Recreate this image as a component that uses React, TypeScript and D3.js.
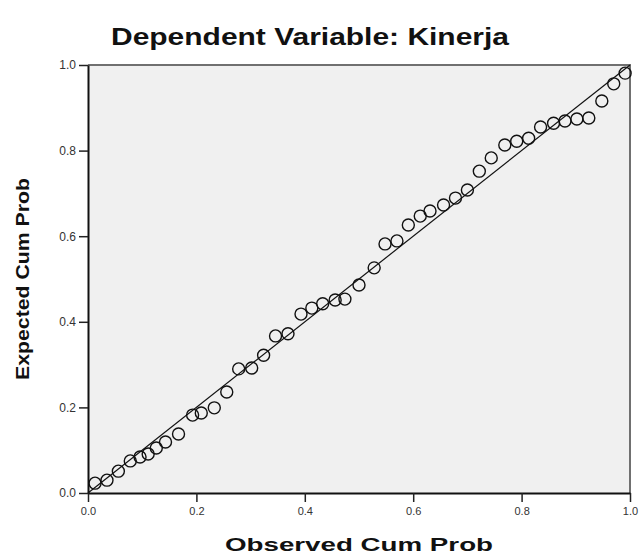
import React, { useEffect, useRef } from 'react'
import * as d3 from 'd3'

// observed vs expected cumulative probabilities (P-P plot of residuals)
const observed = [
  0.013, 0.035, 0.056, 0.078, 0.096, 0.111, 0.126, 0.143, 0.167, 0.193, 0.209, 0.233,
  0.256, 0.278, 0.302, 0.324, 0.346, 0.369, 0.393, 0.413, 0.433, 0.456, 0.474, 0.5,
  0.528, 0.548, 0.57, 0.591, 0.613, 0.631, 0.656, 0.678, 0.7, 0.722, 0.744, 0.769,
  0.791, 0.813, 0.835, 0.859, 0.88, 0.902, 0.924, 0.948, 0.97, 0.991,
]
const expected = [
  0.023, 0.03, 0.051, 0.075, 0.084, 0.091, 0.105, 0.119, 0.138, 0.182, 0.187, 0.199,
  0.236, 0.29, 0.292, 0.322, 0.367, 0.372, 0.418, 0.432, 0.442, 0.451, 0.453, 0.486,
  0.526, 0.582, 0.589, 0.626, 0.647, 0.659, 0.673, 0.689, 0.708, 0.752, 0.783, 0.813,
  0.822, 0.829, 0.855, 0.864, 0.869, 0.874, 0.876, 0.916, 0.956, 0.981,
]
const tickValues = [0, 0.2, 0.4, 0.6, 0.8, 1.0]

const title = 'Dependent Variable: Kinerja'
const xTitle = 'Observed Cum Prob'
const yTitle = 'Expected Cum Prob'

const W = 644
const H = 557
const left = 88
const right = 630
const top = 65
const bottom = 493

export default function App() {
  const ref = useRef<SVGSVGElement>(null)

  useEffect(() => {
    const svg = d3.select(ref.current)
    svg.selectAll('*').remove()

    const x = d3.scaleLinear().domain([0, 1]).range([left, right])
    const y = d3.scaleLinear().domain([0, 1]).range([bottom, top])

    svg.append('rect').attr('width', W).attr('height', H).attr('fill', '#ffffff')

    // plot background
    svg
      .append('rect')
      .attr('x', left)
      .attr('y', top)
      .attr('width', right - left)
      .attr('height', bottom - top)
      .attr('fill', '#f0f0f0')

    // top and right frame
    svg
      .append('path')
      .attr('d', `M${left},${top}H${right}V${bottom}`)
      .attr('fill', 'none')
      .attr('stroke', '#707070')
      .attr('stroke-width', 2)

    // reference line
    svg
      .append('line')
      .attr('x1', x(0))
      .attr('y1', y(0))
      .attr('x2', x(1))
      .attr('y2', y(1))
      .attr('stroke', '#111')
      .attr('stroke-width', 1.2)

    const pts = observed.map((o, i) => ({ o, e: expected[i] }))
    svg
      .append('g')
      .selectAll('circle')
      .data(pts)
      .enter()
      .append('circle')
      .attr('cx', (d) => x(d.o))
      .attr('cy', (d) => y(d.e))
      .attr('r', 6)
      .attr('fill', 'none')
      .attr('stroke', '#111')
      .attr('stroke-width', 1.4)

    const fmt = d3.format('.1f')

    const xAxis = svg
      .append('g')
      .attr('transform', `translate(0,${bottom})`)
      .call(d3.axisBottom(x).tickValues(tickValues).tickFormat((d) => fmt(d as number)).tickSize(9).tickSizeOuter(0))
    xAxis.select('.domain').attr('stroke', '#111').attr('stroke-width', 2)
    xAxis.selectAll('.tick line').attr('stroke', '#222').attr('stroke-width', 1.5)
    xAxis
      .selectAll('.tick text')
      .attr('font-family', 'Liberation Sans, Arial, sans-serif')
      .attr('font-size', 11)
      .attr('fill', '#333')
      .attr('dy', '0.9em')

    const yAxis = svg
      .append('g')
      .attr('transform', `translate(${left},0)`)
      .call(d3.axisLeft(y).tickValues(tickValues).tickFormat((d) => fmt(d as number)).tickSize(9).tickSizeOuter(0))
    yAxis.select('.domain').attr('stroke', '#111').attr('stroke-width', 2)
    yAxis.selectAll('.tick line').attr('stroke', '#222').attr('stroke-width', 1.5)
    yAxis
      .selectAll('.tick text')
      .attr('font-family', 'Liberation Sans, Arial, sans-serif')
      .attr('font-size', 12)
      .attr('fill', '#333')
      .attr('x', -12)

    svg
      .append('text')
      .attr('x', 310)
      .attr('y', 45)
      .attr('text-anchor', 'middle')
      .attr('font-family', 'Liberation Sans, Arial, sans-serif')
      .attr('font-weight', 'bold')
      .attr('font-size', 23)
      .attr('textLength', 398)
      .attr('lengthAdjust', 'spacingAndGlyphs')
      .attr('fill', '#111')
      .text(title)

    svg
      .append('text')
      .attr('x', (left + right) / 2)
      .attr('y', 551)
      .attr('text-anchor', 'middle')
      .attr('font-family', 'Liberation Sans, Arial, sans-serif')
      .attr('font-weight', 'bold')
      .attr('font-size', 18)
      .attr('textLength', 268)
      .attr('lengthAdjust', 'spacingAndGlyphs')
      .attr('fill', '#111')
      .text(xTitle)

    svg
      .append('text')
      .attr('transform', `translate(29,${(top + bottom) / 2}) rotate(-90)`)
      .attr('text-anchor', 'middle')
      .attr('font-family', 'Liberation Sans, Arial, sans-serif')
      .attr('font-weight', 'bold')
      .attr('font-size', 19)
      .attr('textLength', 202)
      .attr('lengthAdjust', 'spacingAndGlyphs')
      .attr('fill', '#111')
      .text(yTitle)
  }, [])

  return (
    <svg
      ref={ref}
      width={W}
      height={H}
      style={{ position: 'absolute', left: 0, top: 0, display: 'block' }}
    />
  )
}
